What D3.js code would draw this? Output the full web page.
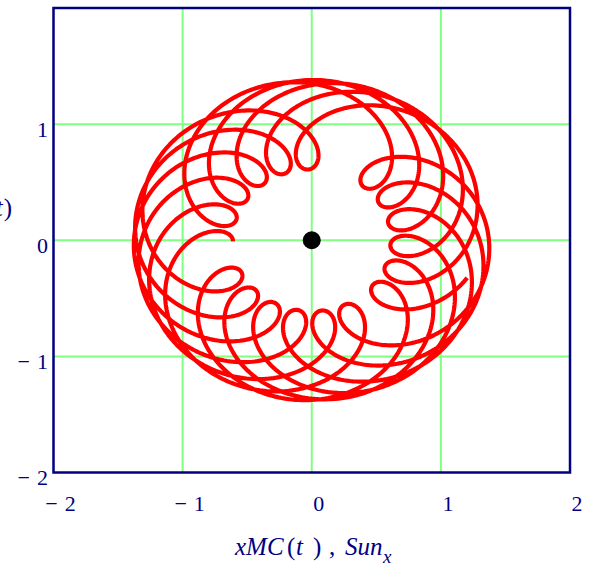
<!DOCTYPE html>
<html>
<head>
<meta charset="utf-8">
<script src="https://cdn.jsdelivr.net/npm/d3@7"></script>
<style>
  html, body { margin: 0; padding: 0; background: #fff; }
  svg { display: block; }
  text { font-family: "Liberation Serif", "Times New Roman", Times, serif; fill: #000080; }
</style>
</head>
<body>
<svg id="chart" width="600" height="567"></svg>
<script>
// Axis limits and tick values
const xDomain = [-2, 2];
const yDomain = [-2, 2];
const xTicks = [-2, -1, 0, 1, 2];
const yTicks = [-2, -1, 0, 1];
const gridValues = [-1, 0, 1];

// Orbit of the moon around the sun: an orbit of radius R round the sun
// plus an orbit of radius r round the moving centre.
const orbitRadius = [0.995, 0.385];     // [R, r]
const angularRate = [-1, -4.154];       // rad per unit of t
const startAngle = [0, 5.286];          // rad at t = 0
const tSpan = [0, 34.55];               // range of the parameter t
const tStep = [0.01];

// Sun position
const sunX = [0];
const sunY = [0];

function xMC(t) {
  return orbitRadius[0] * Math.cos(angularRate[0] * t + startAngle[0]) +
         orbitRadius[1] * Math.cos(angularRate[1] * t + startAngle[1]);
}
function yMC(t) {
  return orbitRadius[0] * Math.sin(angularRate[0] * t + startAngle[0]) +
         orbitRadius[1] * Math.sin(angularRate[1] * t + startAngle[1]);
}

const tValues = d3.range(tSpan[0], tSpan[1] + tStep[0] / 2, tStep[0]);
const orbit = tValues.map(t => [xMC(t), yMC(t)]);

const svg = d3.select("#chart");
const plot = { left: 53.5, right: 570, top: 8, bottom: 472.5 };

const x = d3.scaleLinear().domain(xDomain).range([plot.left, plot.right]);
const y = d3.scaleLinear().domain(yDomain).range([plot.bottom, plot.top]);

svg.append("rect").attr("width", 600).attr("height", 567).attr("fill", "#fff");

svg.append("defs").append("clipPath").attr("id", "plot-clip")
  .append("rect").attr("x", plot.left).attr("y", plot.top)
  .attr("width", plot.right - plot.left).attr("height", plot.bottom - plot.top);

// Grid lines
const grid = svg.append("g").attr("stroke", "#80ff80").attr("stroke-width", 2);
grid.selectAll("line.gx").data(gridValues).join("line")
  .attr("class", "gx")
  .attr("x1", d => x(d)).attr("x2", d => x(d))
  .attr("y1", plot.top).attr("y2", plot.bottom);
grid.selectAll("line.gy").data(gridValues).join("line")
  .attr("class", "gy")
  .attr("x1", plot.left).attr("x2", plot.right)
  .attr("y1", d => y(d)).attr("y2", d => y(d));

// Moon path
const line = d3.line().x(d => x(d[0])).y(d => y(d[1]));
svg.append("g").attr("clip-path", "url(#plot-clip)")
  .append("path")
  .datum(orbit)
  .attr("d", line)
  .attr("fill", "none")
  .attr("stroke", "#ff0000")
  .attr("stroke-width", 4.2)
  .attr("stroke-linejoin", "round")
  .attr("stroke-linecap", "butt");

// Sun
svg.selectAll("circle.sun").data(sunX.map((v, i) => [v, sunY[i]])).join("circle")
  .attr("class", "sun")
  .attr("cx", d => x(d[0])).attr("cy", d => y(d[1]))
  .attr("r", 9).attr("fill", "#000");

// Frame
svg.append("rect")
  .attr("x", plot.left).attr("y", plot.top)
  .attr("width", plot.right - plot.left).attr("height", plot.bottom - plot.top)
  .attr("fill", "none").attr("stroke", "#000080").attr("stroke-width", 2.5);

// Tick label: minus sign set apart from the digits
function tickLabel(sel) {
  sel.each(function(d) {
    const t = d3.select(this);
    if (d < 0) {
      t.append("tspan").text("\u2212");
      t.append("tspan").attr("dx", 7).text(Math.abs(d));
    } else {
      t.append("tspan").text(d);
    }
  });
}

svg.selectAll("text.xt").data(xTicks).join("text")
  .attr("class", "xt")
  .attr("x", d => x(d) + 7).attr("y", 511)
  .attr("text-anchor", "middle")
  .attr("font-size", 22)
  .call(tickLabel);

svg.selectAll("text.yt").data(yTicks).join("text")
  .attr("class", "yt")
  .attr("x", 48).attr("y", d => y(d) + 12.5)
  .attr("text-anchor", "end")
  .attr("font-size", 22)
  .call(tickLabel);

// Axis titles
const xTitle = svg.append("text").attr("y", 555).attr("font-size", 25);
xTitle.append("tspan").attr("x", 235).attr("font-style", "italic").text("xMC");
xTitle.append("tspan").attr("x", 287).text("(");
xTitle.append("tspan").attr("x", 296).attr("font-style", "italic").text("t");
xTitle.append("tspan").attr("x", 313).text(")");
xTitle.append("tspan").attr("x", 329).text(",");
xTitle.append("tspan").attr("x", 345).attr("font-style", "italic").text("Sun");
xTitle.append("tspan").attr("x", 383).attr("dy", 8).attr("font-size", 19)
  .attr("font-style", "italic").text("x");

// Vertical axis title, right-aligned just inside the left edge
const yTitle = svg.append("text")
  .attr("x", 12).attr("y", 215.5)
  .attr("text-anchor", "end")
  .attr("font-size", 25);
yTitle.append("tspan").attr("font-style", "italic").text("yMC");
yTitle.append("tspan").attr("dx", 2).text("(");
yTitle.append("tspan").attr("dx", 1).attr("font-style", "italic").text("t");
yTitle.append("tspan").attr("dx", 1).text(")");
</script>
</body>
</html>
